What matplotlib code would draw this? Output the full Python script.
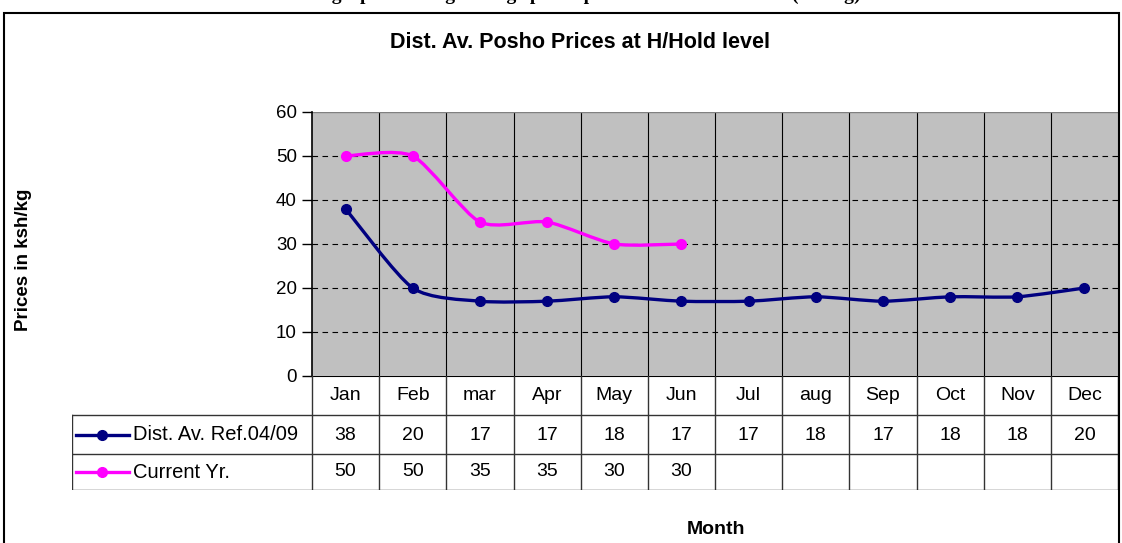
import matplotlib.pyplot as plt
from matplotlib.path import Path
from matplotlib.patches import PathPatch, Rectangle

plt.rcParams['font.family'] = ['Liberation Sans', 'DejaVu Sans']

months = ['Jan', 'Feb', 'mar', 'Apr', 'May', 'Jun', 'Jul', 'aug', 'Sep', 'Oct', 'Nov', 'Dec']
ref_vals = [38, 20, 17, 17, 18, 17, 17, 18, 17, 18, 18, 20]
cur_vals = [50, 50, 35, 35, 30, 30]
ref_name = 'Dist. Av. Ref.04/09'
cur_name = 'Current Yr.'
navy = '#000080'
magenta = '#FF00FF'

W, H = 1122, 543
fig = plt.figure(figsize=(W / 100, H / 100), dpi=100)


def smooth_path(ys, t=0.12):
    # Excel-style smoothed line: cubic bezier through every point
    xs = list(range(len(ys)))
    pts = list(zip(xs, ys))
    verts = [pts[0]]
    codes = [Path.MOVETO]
    n = len(pts)
    for i in range(n - 1):
        p0 = pts[max(i - 1, 0)]
        p1 = pts[i]
        p2 = pts[i + 1]
        p3 = pts[min(i + 2, n - 1)]
        c1 = (p1[0] + (p2[0] - p0[0]) * t, p1[1] + (p2[1] - p0[1]) * t)
        c2 = (p2[0] - (p3[0] - p1[0]) * t, p2[1] - (p3[1] - p1[1]) * t)
        verts += [c1, c2, p2]
        codes += [Path.CURVE4] * 3
    return Path(verts, codes)


# main plot area
ax = fig.add_axes([312 / W, (H - 376) / H, 806 / W, (376 - 112) / H])
ax.set_facecolor('#C0C0C0')
ax.set_xlim(-0.5, 11.5)
ax.set_ylim(0, 60)
ax.set_yticks(range(0, 61, 10))
ax.set_xticks([])
ax.tick_params(axis='y', direction='out', length=7, width=1, labelsize=13.5, pad=4)
for s in ['top', 'right', 'bottom']:
    ax.spines[s].set_visible(False)
ax.spines['left'].set_linewidth(1.2)

for k in range(len(months) - 1):
    ax.axvline(k + 0.5, color='black', lw=0.8, zorder=1)
for yv in range(10, 60, 10):
    ax.axhline(yv, color='black', lw=0.8, ls=(0, (5, 4)), zorder=1)
ax.axhline(60, color='#808080', lw=1, zorder=1)

ax.add_patch(PathPatch(smooth_path(ref_vals), fill=False, edgecolor=navy, lw=2.4, zorder=3))
ax.plot(range(len(ref_vals)), ref_vals, 'o', color=navy, ms=7, zorder=4)
ax.add_patch(PathPatch(smooth_path(cur_vals), fill=False, edgecolor=magenta, lw=2.4, zorder=3))
ax.plot(range(len(cur_vals)), cur_vals, 'o', color=magenta, ms=7, zorder=4)

# data table below the plot
col_w = 806 / 12
x_left = -0.5 - (312 - 72) / col_w
tab = fig.add_axes([72 / W, (H - 490) / H, (1118 - 72) / W, (490 - 376) / H])
tab.set_xlim(x_left, 11.5)
tab.set_ylim(0, 114)
tab.axis('off')
lc = '#333333'
tab.plot([-0.5, 11.5], [114, 114], color='black', lw=1.5)
for yv in [75, 36, 0]:
    tab.plot([x_left, 11.5], [yv, yv], color=lc, lw=1)
tab.plot([x_left, x_left], [0, 75], color=lc, lw=1)
for k in range(len(months) + 1):
    tab.plot([k - 0.5, k - 0.5], [0, 114], color=lc, lw=1)

for k, m in enumerate(months):
    tab.text(k, 95, m, ha='center', va='center', fontsize=14)
for k, v in enumerate(ref_vals):
    tab.text(k, 55, str(v), ha='center', va='center', fontsize=14)
for k, v in enumerate(cur_vals):
    tab.text(k, 18, str(v), ha='center', va='center', fontsize=14)

lx0 = x_left + 4 / col_w
lx1 = x_left + 57 / col_w
for yv, c, name in [(55, navy, ref_name), (18, magenta, cur_name)]:
    tab.plot([lx0, lx1], [yv, yv], color=c, lw=2.4)
    tab.plot([(lx0 + lx1) / 2], [yv], 'o', color=c, ms=7)
    tab.text(x_left + 61 / col_w, yv, name, ha='left', va='center', fontsize=14.5)

# titles and frame
fig.text(580 / W, 1 - 42 / H, 'Dist. Av. Posho Prices at H/Hold level',
         ha='center', va='center', fontsize=15.5, fontweight='bold')
fig.text(24 / W, 1 - 260 / H, 'Prices in ksh/kg', rotation=90,
         ha='center', va='center', fontsize=13.5, fontweight='bold')
fig.text(716 / W, 1 - 530 / H, 'Month', ha='center', va='center',
         fontsize=14, fontweight='bold')
fig.text(575 / W, 1 + 0.5 / H,
         'Line graph showing average posho prices at household level (ksh/kg)',
         ha='center', va='baseline', fontsize=14, fontweight='bold',
         family='Liberation Serif')
fig.add_artist(Rectangle((3.5 / W, -0.05), (1119 - 3.5) / W, 1.05 - 12.5 / H,
                         transform=fig.transFigure, fill=False,
                         edgecolor='black', lw=1.5))

plt.savefig('out.png', dpi=100)
